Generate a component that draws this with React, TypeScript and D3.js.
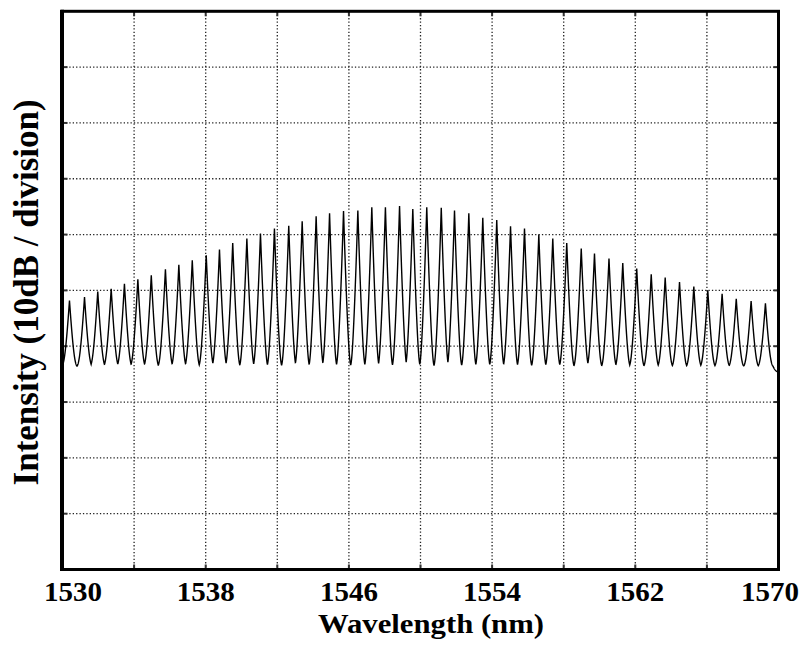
import React from "react";
import * as d3 from "d3";

// ---- data ----
const xGridTicks = [1530, 1534, 1538, 1542, 1546, 1550, 1554, 1558, 1562, 1566, 1570];
const xLabelTicks = [1530, 1538, 1546, 1554, 1562, 1570];
const yGridTicks = [-100, -90, -80, -70, -60, -50, -40, -30, -20, -10, 0];

const peakWavelengths = [
  1530.39, 1531.23, 1531.97, 1532.72, 1533.46, 1534.21, 1534.96, 1535.75, 1536.5, 1537.25,
  1538.03, 1538.77, 1539.51, 1540.3, 1541.06, 1541.84, 1542.64, 1543.39, 1544.17, 1544.92,
  1545.7, 1546.5, 1547.28, 1548.04, 1548.83, 1549.57, 1550.35, 1551.16, 1551.9, 1552.7,
  1553.48, 1554.26, 1555.03, 1555.81, 1556.61, 1557.39, 1558.17, 1558.98, 1559.72, 1560.53,
  1561.3, 1562.08, 1562.89, 1563.67, 1564.47, 1565.27, 1566.05, 1566.85, 1567.64, 1568.47,
  1569.27,
];
const peakLevels = [
  -51.8, -51.2, -50.2, -49.7, -48.8, -48.0, -47.3, -46.2, -45.4, -44.6,
  -43.7, -42.7, -41.5, -40.7, -39.8, -38.9, -38.4, -37.6, -36.7, -36.2,
  -35.8, -35.7, -35.1, -35.1, -34.9, -35.4, -35.1, -35.2, -35.7, -36.2,
  -37.0, -37.4, -38.5, -38.9, -40.0, -40.7, -41.5, -42.5, -43.4, -44.3,
  -45.1, -46.1, -47.1, -47.7, -48.5, -49.3, -50.0, -50.6, -51.5, -51.9,
  -52.3,
];
const floorLevel = -64.8;

// ---- layout ----
const W = 806;
const H = 646;
const L = 62.5, R = 778.5, T = 11.3, B = 569.5;

const x = d3.scaleLinear().domain([1530, 1570]).range([L, R]);
const y = d3.scaleLinear().domain([-100, 0]).range([B, T]);

const halfWidth = 0.42; // nm
const soft = 1.8; // dB
const gamma = 1.5;

function level(lambda: number): number {
  const i = d3.minIndex(peakWavelengths, (p) => Math.abs(p - lambda));
  const d = Math.abs(lambda - peakWavelengths[i]);
  const c = peakLevels[i] - floorLevel;
  const u = 1 - d / halfWidth;
  const ex = u > 0 ? c * Math.pow(u, gamma) : c * u * 0.5;
  return floorLevel + soft * Math.log(1 + Math.exp(ex / soft));
}

const samples: [number, number][] = d3
  .range(0, 4001)
  .map((k) => 1530 + k * 0.01)
  .map((lam) => [lam, level(lam)]);

const line = d3
  .line<[number, number]>()
  .x((d) => x(d[0]))
  .y((d) => y(d[1]));

const font = "'Liberation Serif', 'Times New Roman', serif";

export default function App() {
  const tickLen = 5;
  return (
    <svg width={W} height={H} style={{ position: "absolute", left: 0, top: 0, background: "#fff" }}>
      <rect x={0} y={0} width={W} height={H} fill="#fff" />
      {/* grid */}
      {xGridTicks.slice(1, -1).map((t) => (
        <line key={"gx" + t} x1={x(t)} x2={x(t)} y1={T} y2={B} stroke="#222" strokeWidth={1.3} strokeDasharray="1.3,2.1" />
      ))}
      {yGridTicks.slice(1, -1).map((t) => (
        <line key={"gy" + t} x1={L} x2={R} y1={y(t)} y2={y(t)} stroke="#222" strokeWidth={1.3} strokeDasharray="1.3,2.1" />
      ))}
      {/* inward ticks */}
      {xGridTicks.slice(1, -1).map((t) => (
        <g key={"tx" + t} stroke="#333" strokeWidth={2}>
          <line x1={x(t)} x2={x(t)} y1={T} y2={T + tickLen} />
          <line x1={x(t)} x2={x(t)} y1={B} y2={B - tickLen} />
        </g>
      ))}
      {yGridTicks.slice(1, -1).map((t) => (
        <g key={"ty" + t} stroke="#333" strokeWidth={2}>
          <line x1={L} x2={L + tickLen} y1={y(t)} y2={y(t)} />
          <line x1={R} x2={R - tickLen} y1={y(t)} y2={y(t)} />
        </g>
      ))}
      {/* trace */}
      <path d={line(samples) || ""} fill="none" stroke="#000" strokeWidth={1.4} strokeLinejoin="miter" />
      {/* frame */}
      <rect x={L} y={T} width={R - L} height={B - T} fill="none" stroke="#000" strokeWidth={3} />
      <line x1={L - 0.5} x2={L - 0.5} y1={T - 1.5} y2={B + 1.5} stroke="#000" strokeWidth={4} />
      {/* x tick labels */}
      {xLabelTicks.map((t) => {
        const cx = Math.min(Math.max(x(t), 73), 770);
        return (
          <text key={"lx" + t} x={cx} y={601} textAnchor="middle" fontFamily={font} fontWeight="bold" fontSize={27}
            textLength={58} lengthAdjust="spacingAndGlyphs" fill="#000">
            {t}
          </text>
        );
      })}
      <text x={431} y={633} textAnchor="middle" fontFamily={font} fontWeight="bold" fontSize={28}
        textLength={226} lengthAdjust="spacingAndGlyphs" fill="#000">
        Wavelength (nm)
      </text>
      <text
        transform={`translate(38, ${(T + B) / 2 + 2}) rotate(-90)`}
        textAnchor="middle"
        fontFamily={font}
        fontWeight="bold"
        fontSize={35}
        fill="#000"
      >
        Intensity (10dB / division)
      </text>
    </svg>
  );
}
